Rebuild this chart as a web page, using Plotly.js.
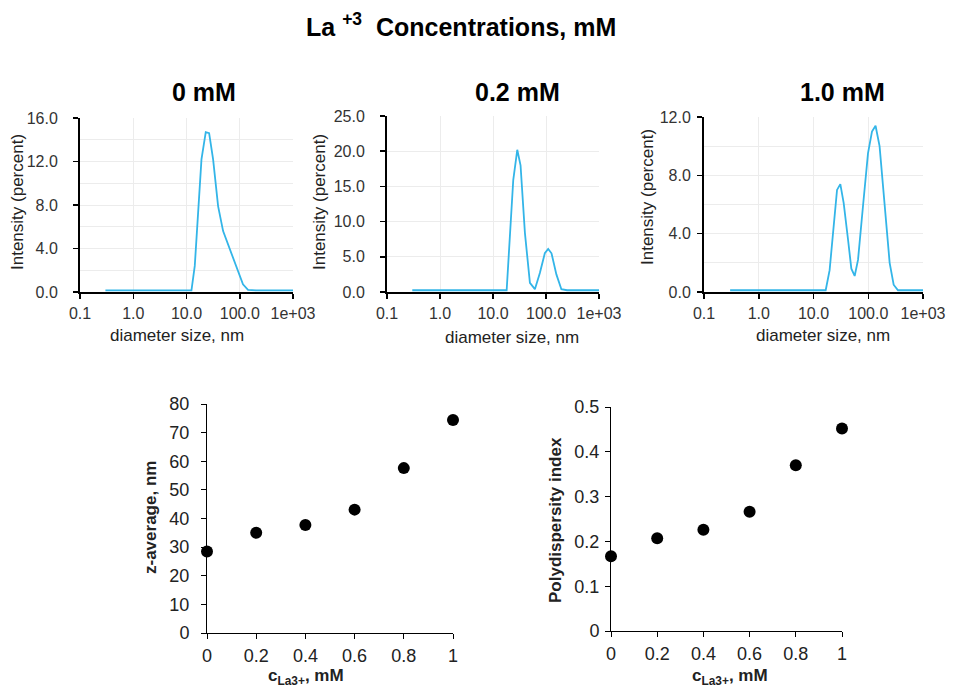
<!DOCTYPE html>
<html>
<head>
<meta charset="utf-8">
<script src="https://cdn.plot.ly/plotly-3.0.1.min.js"></script>
<style>html,body{margin:0;padding:0;background:#fff;}#chart{width:957px;height:691px;}</style>
</head>
<body>
<div id="chart"></div>
<script>
// ---- Data ----
const size0mM = [0.3, 5, 12.4, 14.3, 19.1, 23.0, 26.6, 31.6, 39.2, 48.7, 58.9, 86.6, 115, 143, 200, 1000];
const int0mM  = [0.15, 0.15, 0.15, 2.4, 12.2, 14.7, 14.6, 12.2, 7.9, 5.6, 4.5, 2.4, 0.7, 0.2, 0.15, 0.15];

const size02mM = [0.3, 5, 18.1, 24.1, 28.7, 33.1, 40, 49.7, 61.7, 76.6, 95, 110, 127, 157, 195, 250, 1000];
const int02mM  = [0.25, 0.25, 0.25, 15.9, 20.2, 18.0, 8.4, 1.3, 0.4, 2.7, 5.5, 6.1, 5.5, 2.5, 0.4, 0.25, 0.25];

const size10mM = [0.3, 5, 16.7, 19.7, 22.7, 26.9, 30.9, 35.6, 42.7, 49.1, 56.5, 65, 80.2, 98.9, 117, 136, 161, 199, 246, 291, 349, 500, 1000];
const int10mM  = [0.12, 0.12, 0.12, 1.5, 4.0, 7.0, 7.4, 6.1, 3.6, 1.6, 1.1, 2.2, 5.9, 9.5, 11.0, 11.4, 10.0, 5.9, 2.0, 0.5, 0.12, 0.12, 0.12];

const concLa = [0, 0.2, 0.4, 0.6, 0.8, 1.0];
const zAverage = [28.5, 35.0, 37.7, 43.1, 57.6, 74.4];
const pdi = [0.167, 0.207, 0.226, 0.266, 0.370, 0.452];

const logTickVals = [0.1, 1, 10, 100, 1000];
const logTickText = ['0.1', '1.0', '10.0', '100.0', '1e+03'];
const yTicks0 = [0, 4, 8, 12, 16];
const yTicks02 = [0, 5, 10, 15, 20, 25];
const yTicks10 = [0, 4, 8, 12];
const concTickText = ['0', '0.2', '0.4', '0.6', '0.8', '1'];

const panelTitles = ['0 mM', '0.2 mM', '1.0 mM'];
const mainTitle = 'La <sup>+3</sup>  Concentrations, mM';

// ---- Layout helpers ----
const W = 957, H = 691;
const px = v => v / W;
const py = v => 1 - v / H;
const FONT = 'Arial, "Liberation Sans", sans-serif';
const lineColor = '#33b5e8';
const gridColor = '#ececec';

function topX(l, r, anchor) {
  return {
    type: 'log', range: [-1, 3], domain: [px(l), px(r)], anchor: anchor,
    tickvals: logTickVals, ticktext: logTickText,
    showline: true, linecolor: '#000', linewidth: 2,
    ticks: 'outside', ticklen: 5, tickcolor: '#000', tickwidth: 1.5,
    showgrid: true, gridcolor: gridColor, gridwidth: 1,
    zeroline: false, tickfont: {family: FONT, size: 16, color: '#333'},
    ticklabelstandoff: 1, fixedrange: true
  };
}
function topY(t, b, anchor, maxv, tv, minorD, standoff) {
  const ax = {
    range: [0, maxv], domain: [py(b), py(t)], anchor: anchor,
    tickvals: tv, ticktext: tv.map(v => v.toFixed(1)),
    showline: true, linecolor: '#000', linewidth: 2,
    ticks: 'outside', ticklen: 5, tickcolor: '#000', tickwidth: 1.5,
    showgrid: true, gridcolor: gridColor, gridwidth: 1,
    zeroline: false, tickfont: {family: FONT, size: 16, color: '#333'},
    ticklabelstandoff: standoff, fixedrange: true
  };
  if (minorD) ax.minor = {dtick: minorD, showgrid: true, gridcolor: gridColor, ticks: ''};
  return ax;
}
function botX(l, r, anchor) {
  return {
    range: [0, 1], domain: [px(l), px(r)], anchor: anchor,
    tickvals: concLa, ticktext: concTickText,
    showline: true, linecolor: '#000', linewidth: 1,
    ticks: 'outside', ticklen: 5, tickcolor: '#000', tickwidth: 1,
    showgrid: false, zeroline: false,
    tickfont: {family: FONT, size: 18, color: '#222'}, ticklabelstandoff: 1,
    fixedrange: true
  };
}
function botY(t, b, anchor, maxv, dt, standoff) {
  return {
    range: [0, maxv], domain: [py(b), py(t)], anchor: anchor, dtick: dt,
    showline: true, linecolor: '#000', linewidth: 1,
    ticks: 'outside', ticklen: 5, tickcolor: '#000', tickwidth: 1,
    showgrid: false, zeroline: false,
    tickfont: {family: FONT, size: 18, color: '#222'}, ticklabelstandoff: standoff,
    fixedrange: true
  };
}

const lineStyle = {color: lineColor, width: 1.8};
const markerStyle = {color: '#000', size: 12};

const data = [
  {x: size0mM, y: int0mM, xaxis: 'x', yaxis: 'y', mode: 'lines', line: lineStyle},
  {x: size02mM, y: int02mM, xaxis: 'x2', yaxis: 'y2', mode: 'lines', line: lineStyle},
  {x: size10mM, y: int10mM, xaxis: 'x3', yaxis: 'y3', mode: 'lines', line: lineStyle},
  {x: concLa, y: zAverage, xaxis: 'x4', yaxis: 'y4', mode: 'markers', marker: markerStyle, cliponaxis: false},
  {x: concLa, y: pdi, xaxis: 'x5', yaxis: 'y5', mode: 'markers', marker: markerStyle, cliponaxis: false}
];

function ann(text, x, y, size, bold, angle, color) {
  return {
    text: bold ? '<b>' + text + '</b>' : text,
    x: px(x), y: py(y), xref: 'paper', yref: 'paper',
    xanchor: 'center', yanchor: 'middle', showarrow: false,
    textangle: angle || 0,
    font: {family: FONT, size: size, color: color || '#000'}
  };
}

const layout = {
  width: W, height: H,
  margin: {l: 0, r: 0, t: 0, b: 0},
  paper_bgcolor: '#fff', plot_bgcolor: '#fff',
  showlegend: false,
  xaxis:  topX(80, 293, 'y'),
  yaxis:  topY(118, 292, 'x', 16, yTicks0, 2, 12),
  xaxis2: topX(387, 599, 'y2'),
  yaxis2: topY(116, 292, 'x2', 25, yTicks02, null, 12),
  xaxis3: topX(704, 923, 'y3'),
  yaxis3: topY(117, 292, 'x3', 12, yTicks10, 2, 3),
  xaxis4: botX(207, 453, 'y4'),
  yaxis4: botY(404, 633, 'x4', 80, 10, 8),
  xaxis5: botX(611, 842, 'y5'),
  yaxis5: botY(407, 631, 'x5', 0.5, 0.1, 2),
  annotations: [
    ann(mainTitle, 461, 25, 25, true),
    ann(panelTitles[0], 204, 92, 25, true),
    ann(panelTitles[1], 517, 92, 25, true),
    ann(panelTitles[2], 842, 92, 25, true),
    ann('Intensity (percent)', 17, 202, 17, false, -90, '#222'),
    ann('Intensity (percent)', 319, 202, 17, false, -90, '#222'),
    ann('Intensity (percent)', 647, 197, 17, false, -90, '#222'),
    ann('diameter size, nm', 177, 335, 17, false, 0, '#222'),
    ann('diameter size, nm', 512, 337, 17, false, 0, '#222'),
    ann('diameter size, nm', 823, 335, 17, false, 0, '#222'),
    ann('z-average, nm', 150, 518, 17, true, -90, '#222'),
    ann('Polydispersity index', 555, 520, 17, true, -90, '#222'),
    ann('c<sub>La3+</sub>, mM', 306, 677, 17, true, 0, '#222'),
    ann('c<sub>La3+</sub>, mM', 730, 677, 17, true, 0, '#222')
  ]
};

Plotly.newPlot('chart', data, layout, {displayModeBar: false, staticPlot: true});
</script>
</body>
</html>
